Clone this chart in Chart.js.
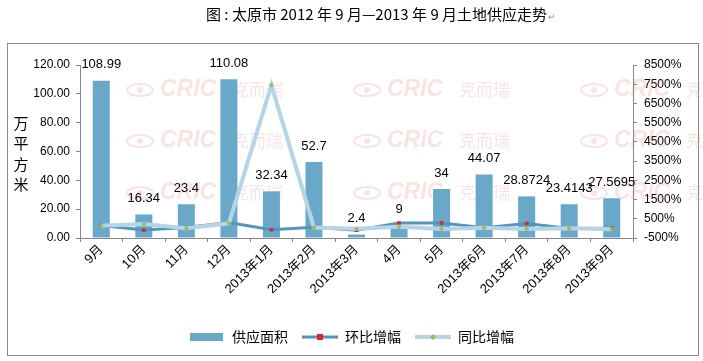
<!DOCTYPE html>
<html>
<head>
<meta charset="utf-8">
<script src="https://cdn.jsdelivr.net/npm/chart.js@4.4.1/dist/chart.umd.min.js"></script>
<style>
html, body { margin: 0; padding: 0; background: #fff; }
#wrap { width: 703px; height: 361px; position: relative; }
</style>
</head>
<body>
<div id="wrap"><canvas id="landChart"></canvas></div>
<script>
const monthLabels = [
    "9月","10月","11月","12月","2013年1月","2013年2月","2013年3月",
    "4月","5月","2013年6月","2013年7月","2013年8月","2013年9月"
];

// 供应面积 (万平方米)
const supplyArea = [108.99, 16.34, 23.4, 110.08, 32.34, 52.7, 2.4, 9, 34, 44.07, 28.8724, 23.4143, 27.5695];

// 环比增幅 (%)
const momGrowth = [150, -85, 43, 300, -71, 63, -95, 275, 278, 30, 260, -10, 10];

// 同比增幅 (%)
const yoyGrowth = [140, 228, 5, 265, 7450, 50, -20, 88, -30, 36, -30, 5, -47];

const seriesNames = ["供应面积", "环比增幅", "同比增幅"];

const LATIN = "'Liberation Sans', 'Noto Sans CJK SC', sans-serif";
const CJK = "'Noto Sans CJK SC', sans-serif";

const barColor = "#6aa8c9";
const momColor = "#5295bd";
const yoyColor = "#b6d4e7";

// =======================
// legend icons
// =======================

function makeIcon(draw) {
    const c = document.createElement("canvas");
    c.width = 36;
    c.height = 10;
    draw(c.getContext("2d"));
    return c;
}

const legendIcons = [
    makeIcon(ctx => {
        ctx.fillStyle = barColor;
        ctx.fillRect(1, 1, 33, 8);
    }),
    makeIcon(ctx => {
        ctx.fillStyle = momColor;
        ctx.fillRect(0, 3.5, 36, 3);
        ctx.fillStyle = "#d7262b";
        ctx.fillRect(15, 2, 6, 6);
    }),
    makeIcon(ctx => {
        ctx.fillStyle = yoyColor;
        ctx.fillRect(0, 3, 36, 4);
        ctx.fillStyle = "#9bbb59";
        ctx.beginPath();
        ctx.moveTo(18, 2); ctx.lineTo(21, 5); ctx.lineTo(18, 8); ctx.lineTo(15, 5);
        ctx.fill();
    })
];

// =======================
// decorations
// =======================

const decorPlugin = {
    id: "decor",
    beforeDraw(chart) {
        const ctx = chart.ctx;
        ctx.save();
        ctx.fillStyle = "#fff";
        ctx.fillRect(0, 0, chart.width, chart.height);
        ctx.strokeStyle = "#8a8a8a";
        ctx.lineWidth = 1;
        ctx.strokeRect(7.5, 43.5, 691, 312);

        // title
        ctx.fillStyle = "#000";
        ctx.font = "15px " + CJK;
        ctx.textBaseline = "middle";
        ctx.textAlign = "left";
        const title = "图 : 太原市 2012 年 9 月—2013 年 9 月土地供应走势";
        ctx.fillText(title, 206, 14);
        const w = ctx.measureText(title).width;
        ctx.fillStyle = "#999";
        ctx.font = "9px " + CJK;
        ctx.fillText("↵", 206 + w + 1, 17);

        // y axis title
        ctx.fillStyle = "#000";
        ctx.font = "15px " + CJK;
        ctx.textAlign = "center";
        ["万", "平", "方", "米"].forEach((ch, i) => {
            ctx.fillText(ch, 21, 123 + i * 20.5);
        });
        ctx.restore();
    },
    beforeDatasetsDraw(chart) {
        // faint CRIC watermark
        const ctx = chart.ctx;
        ctx.save();
        ctx.globalAlpha = 0.2;
        ctx.fillStyle = "#e07a7a";
        ctx.strokeStyle = "#e07a7a";
        ctx.textBaseline = "middle";
        ctx.textAlign = "left";
        [126, 353, 580].forEach(x0 => {
            [90, 141, 193].forEach(y0 => {
                ctx.lineWidth = 2;
                ctx.beginPath();
                ctx.ellipse(x0 + 14, y0, 13, 6, 0, 0, Math.PI * 2);
                ctx.stroke();
                ctx.beginPath();
                ctx.arc(x0 + 14, y0, 3, 0, Math.PI * 2);
                ctx.fill();
                ctx.font = "italic bold 23px " + LATIN;
                ctx.fillText("CRIC", x0 + 34, y0);
                ctx.font = "17px " + CJK;
                ctx.fillText("克而瑞", x0 + 106, y0);
            });
        });
        ctx.restore();
    },
    afterDatasetsDraw(chart) {
        // value labels above bars
        const ctx = chart.ctx;
        const meta = chart.getDatasetMeta(0);
        ctx.save();
        ctx.fillStyle = "#000";
        ctx.font = "13px " + LATIN;
        ctx.textAlign = "center";
        ctx.textBaseline = "middle";
        meta.data.forEach((bar, i) => {
            ctx.fillText(String(supplyArea[i]), bar.x, bar.y - 16);
        });
        ctx.restore();
    }
};

// =======================
// chart
// =======================

new Chart(document.getElementById("landChart"), {
    data: {
        labels: monthLabels,
        datasets: [{
            type: "bar",
            label: seriesNames[0],
            data: supplyArea,
            backgroundColor: barColor,
            barPercentage: 0.4,
            categoryPercentage: 1,
            yAxisID: "y",
            order: 3
        }, {
            type: "line",
            label: seriesNames[1],
            data: momGrowth,
            borderColor: momColor,
            borderWidth: 3,
            pointStyle: "rect",
            pointRadius: 2.5,
            pointBackgroundColor: "#d7262b",
            pointBorderWidth: 0,
            tension: 0,
            yAxisID: "y1",
            order: 2
        }, {
            type: "line",
            label: seriesNames[2],
            data: yoyGrowth,
            borderColor: yoyColor,
            borderWidth: 4,
            pointStyle: "rectRot",
            pointRadius: 2.5,
            pointBackgroundColor: "#9bbb59",
            pointBorderWidth: 0,
            tension: 0,
            yAxisID: "y1",
            order: 1
        }]
    },
    options: {
        responsive: true,
        maintainAspectRatio: false,
        animation: false,
        layout: {
            padding: { top: 65, bottom: 7, left: 0, right: 0 }
        },
        plugins: {
            tooltip: { enabled: false },
            legend: {
                position: "bottom",
                labels: {
                    usePointStyle: true,
                    pointStyleWidth: 36,
                    padding: 14,
                    color: "#000",
                    font: { size: 14, family: CJK },
                    sort: (a, b) => a.datasetIndex - b.datasetIndex,
                    generateLabels: chart => chart.data.datasets.map((ds, i) => ({
                        text: ds.label,
                        pointStyle: legendIcons[i],
                        datasetIndex: i,
                        fillStyle: "transparent",
                        strokeStyle: "transparent",
                        lineWidth: 0,
                        hidden: false
                    }))
                }
            }
        },
        scales: {
            x: {
                offset: true,
                grid: { offset: true, drawOnChartArea: false, tickLength: 4, color: "#888" },
                border: { color: "#888" },
                ticks: {
                    autoSkip: false,
                    minRotation: 45,
                    maxRotation: 45,
                    padding: 0,
                    color: "#000",
                    font: { size: 13, family: LATIN }
                },
                afterFit: s => { s.height = 78; }
            },
            y: {
                position: "left",
                min: 0,
                max: 120,
                grid: { drawOnChartArea: false, tickLength: 4, color: "#888" },
                border: { color: "#888" },
                ticks: {
                    stepSize: 20,
                    padding: 6,
                    color: "#000",
                    font: { size: 12, family: LATIN },
                    callback: v => v.toFixed(2)
                },
                afterFit: s => { s.width = 80; }
            },
            y1: {
                position: "right",
                min: -500,
                max: 8500,
                grid: { drawOnChartArea: false, tickLength: 4, color: "#888" },
                border: { color: "#888" },
                ticks: {
                    stepSize: 1000,
                    padding: 7,
                    color: "#000",
                    font: { size: 12, family: LATIN },
                    callback: v => v + "%"
                },
                afterFit: s => { s.width = 70; }
            }
        }
    },
    plugins: [decorPlugin]
});
</script>
</body>
</html>
